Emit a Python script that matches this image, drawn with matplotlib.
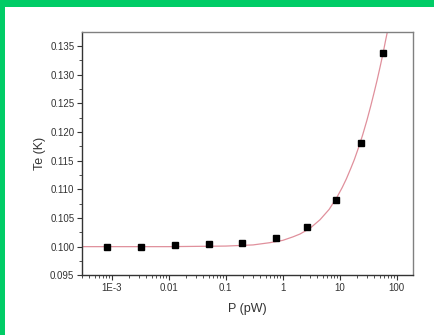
import numpy as np
import matplotlib
matplotlib.use("Agg")
import matplotlib.pyplot as plt
from matplotlib.patches import Rectangle
from matplotlib.ticker import FixedLocator, FixedFormatter, LogLocator, NullFormatter, MultipleLocator

plt.rcParams['font.family'] = ['Liberation Sans', 'DejaVu Sans']

# measured points
P_data = [8.1e-4, 3.3e-3, 0.0127, 0.050, 0.196, 0.75, 2.64, 8.5, 23.7, 57.5]
Te_data = [0.1000, 0.1000, 0.1002, 0.1004, 0.1007, 0.1015, 0.1034, 0.1081, 0.1180, 0.1338]

# fit curve
P_fit = [3e-4, 1e-3, 0.01, 0.1, 0.3, 0.6, 1.0, 1.5, 2.0, 3.0, 4.5, 6.5, 9.0, 11, 13, 15.5, 18, 21, 25,
         30, 35, 40, 45, 51, 57, 63, 70]
Te_fit = [0.1000, 0.1000, 0.1000, 0.1001, 0.1003, 0.1007, 0.1011, 0.1017, 0.1022, 0.1032, 0.1047,
          0.1065, 0.1087, 0.1103, 0.1118, 0.1136, 0.1152, 0.1171, 0.1194, 0.1221, 0.1246, 0.1269,
          0.1290, 0.1314, 0.1336, 0.1358, 0.1380]

xtick_vals = [1e-3, 1e-2, 1e-1, 1, 10, 100]
xtick_labels = ["1E-3", "0.01", "0.1", "1", "10", "100"]

fig = plt.figure(figsize=(4.34, 3.35), dpi=100)
fig.patch.set_facecolor("white")

# green frame on top and left
green = "#00cc66"
fig.patches.append(Rectangle((0, 1 - 7 / 335), 1, 7 / 335, transform=fig.transFigure,
                             facecolor=green, edgecolor="none", zorder=0))
fig.patches.append(Rectangle((0, 0), 5 / 434, 1, transform=fig.transFigure,
                             facecolor=green, edgecolor="none", zorder=0))

ax = fig.add_axes([82 / 434, 1 - 275.3 / 335, (412.7 - 82) / 434, (275.3 - 32.3) / 335])
ax.set_xscale("log")

ax.plot(P_fit, Te_fit, color="#e0909c", lw=0.9, zorder=2)
ax.plot(P_data, Te_data, "s", color="black", ms=4.5, zorder=3)

ax.set_xlim(3.0e-4, 190)
ax.set_ylim(0.095, 0.1374)

ax.xaxis.set_major_locator(FixedLocator(xtick_vals))
ax.xaxis.set_major_formatter(FixedFormatter(xtick_labels))
ax.xaxis.set_minor_locator(LogLocator(base=10, subs=np.arange(2, 10), numticks=20))
ax.xaxis.set_minor_formatter(NullFormatter())
ax.yaxis.set_major_locator(MultipleLocator(0.005))
ax.yaxis.set_minor_locator(MultipleLocator(0.0025))
ax.yaxis.set_major_formatter(matplotlib.ticker.FormatStrFormatter("%.3f"))

for s in ax.spines.values():
    s.set_color("#808080")
    s.set_linewidth(1.0)
ax.spines["left"].set_color("#333333")
ax.spines["bottom"].set_color("#333333")

ax.tick_params(which="major", direction="out", length=3.5, width=0.8, color="#333333",
               labelsize=7, labelcolor="#333333", top=False, right=False, pad=2)
ax.tick_params(which="minor", direction="out", length=2, width=0.6, color="#333333",
               top=False, right=False)

ax.set_xlabel("P (pW)", fontsize=9, color="#333333", labelpad=7)
ax.set_ylabel("Te (K)", fontsize=9, color="#333333", labelpad=3)

fig.savefig("out.png", dpi=100)
